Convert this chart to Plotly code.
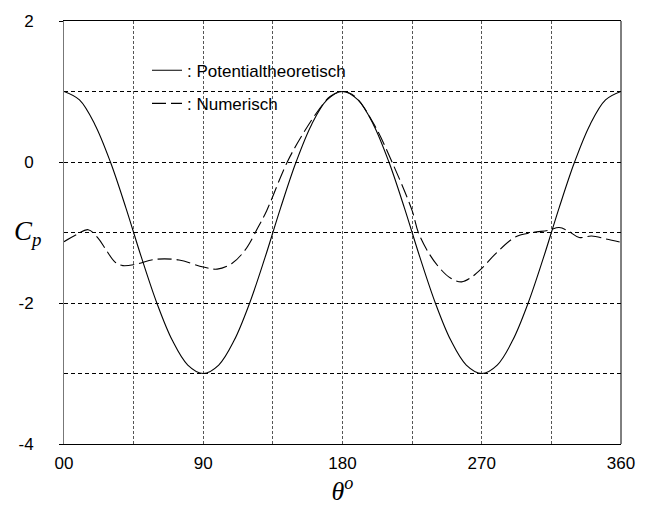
import plotly.graph_objects as go

# Potential theory curve
theta_pot = [0, 10, 20, 30, 40, 50, 60, 70, 80, 90, 100, 110, 120, 130, 140, 150, 160, 170, 180,
             190, 200, 210, 220, 230, 240, 250, 260, 270, 280, 290, 300, 310, 320, 330, 340, 350, 360]
cp_pot = [1.0, 0.88, 0.53, 0.0, -0.65, -1.35, -2.0, -2.53, -2.88, -3.0, -2.88, -2.53, -2.0, -1.35, -0.65, 0.0, 0.53, 0.88, 1.0,
          0.88, 0.53, 0.0, -0.65, -1.35, -2.0, -2.53, -2.88, -3.0, -2.88, -2.53, -2.0, -1.35, -0.65, 0.0, 0.53, 0.88, 1.0]

# Numerical curve
theta_num = [0, 8, 15.6, 22, 27.3, 33, 38, 46.5, 59.4, 74.3, 90, 99, 108.5, 117, 125.6, 131, 144.3, 155, 164, 172, 180,
             188, 200, 212, 225, 229, 236, 243, 250, 257, 263, 270, 279, 292, 303, 313, 320, 326, 333, 341, 350, 360]
cp_num = [-1.13, -1.03, -0.96, -1.08, -1.25, -1.42, -1.47, -1.45, -1.38, -1.39, -1.49, -1.52, -1.44, -1.25, -0.92, -0.69, 0.0, 0.42, 0.72, 0.93, 1.0,
          0.93, 0.55, 0.0, -0.69, -1.0, -1.3, -1.51, -1.65, -1.70, -1.64, -1.51, -1.30, -1.06, -1.0, -0.97, -0.93, -0.98, -1.07, -1.05, -1.09, -1.14]

x_tickvals = [0, 90, 180, 270, 360]
x_ticktext = ["00", "90", "180", "270", "360"]
y_tickvals = [-4, -2, 0, 2]
y_ticktext = ["-4", "-2", "0", "2"]

fig = go.Figure()
fig.add_trace(go.Scatter(x=theta_pot, y=cp_pot, mode="lines", name=": Potentialtheoretisch", legendgroup="a",
                         line=dict(color="black", width=1.1, shape="spline", smoothing=1.0)))
fig.add_trace(go.Scatter(x=theta_num, y=cp_num, mode="lines", name=": Numerisch", legendgroup="b",
                         line=dict(color="black", width=1.1, dash="14px,5px", shape="spline", smoothing=1.0)))

fig.update_layout(
    width=647, height=512,
    margin=dict(l=64, r=21, t=20, b=67),
    paper_bgcolor="white", plot_bgcolor="white",
    font=dict(family="Liberation Sans, Arial", size=17, color="black"),
    showlegend=True,
    legend=dict(x=0.149, y=0.925, xanchor="left", yanchor="top", bgcolor="rgba(0,0,0,0)",
                font=dict(size=17), tracegroupgap=8),
)
fig.update_xaxes(
    range=[0, 360], tickvals=x_tickvals, ticktext=x_ticktext,
    showline=True, linecolor="black", linewidth=1, mirror=True,
    showgrid=True, gridcolor="#555", griddash="3px,2px", gridwidth=1,
    ticks="", zeroline=False, ticklabelstandoff=4,
    minor=dict(tickvals=[45, 135, 225, 315], showgrid=True, gridcolor="#555", griddash="3px,2px", gridwidth=1),
    title=dict(text="<i>θ</i><sup><i>o</i></sup>", font=dict(family="Liberation Serif, DejaVu Serif", size=26), standoff=8),
)
fig.update_yaxes(
    range=[-4, 2], tickvals=y_tickvals, ticktext=y_ticktext,
    showline=True, linecolor="#777", linewidth=1,
    showgrid=False, ticks="outside", ticklen=4, tickcolor="black",
    ticklabelstandoff=22, zeroline=False,
    minor=dict(tickvals=[-3, -2, -1, 0, 1], showgrid=True, gridcolor="black", griddash="4px,3px", gridwidth=1),
)
fig.add_annotation(text="<i>C</i><sub><i>p</i></sub>", xref="paper", yref="y", x=-0.065, y=-1.0,
                   xanchor="center", yanchor="middle", showarrow=False,
                   font=dict(family="Liberation Serif, DejaVu Serif", size=27, color="black"))
fig.add_shape(type="line", xref="paper", yref="paper", x0=1, x1=1, y0=0, y1=1, line=dict(color="black", width=1))

fig.write_html("out.html")
